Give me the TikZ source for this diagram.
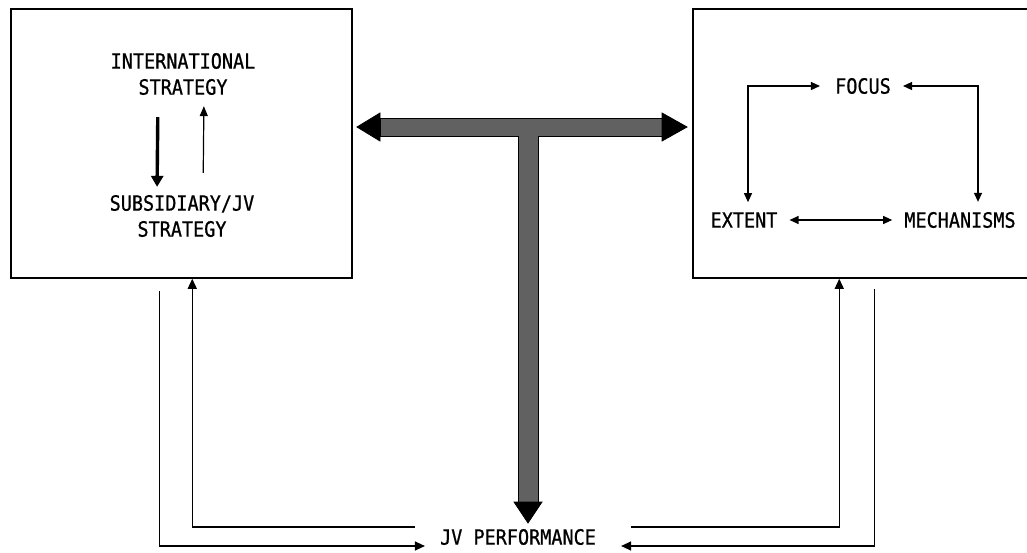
\documentclass[tikz,border=0pt]{standalone}
\usepackage{fontspec}
\setmainfont{DejaVu Sans Mono}[FakeStretch=0.88, FakeBold=0.8]
\usetikzlibrary{arrows.meta, positioning, calc}

\begin{document}
\begin{tikzpicture}[
  x=1pt, y=-1pt,
  font=\fontsize{21}{26}\selectfont,
  frame/.style={draw=black, line width=1.5pt, inner sep=0pt},
  txt/.style={inner sep=0pt, align=center},
  fb/.style={draw=black, line width=1.3pt, -{Triangle[length=10pt, width=9pt]}},
  thinarr/.style={draw=black, line width=1.2pt, {Triangle[length=9pt, width=8pt]}-{Triangle[length=9pt, width=8pt]}},
  bold/.style={draw=black, line width=3.4pt, -{Triangle[length=11pt, width=12pt]}},
  slim/.style={draw=black, line width=1.2pt, -{Triangle[length=10pt, width=8pt]}},
  tbar/.style={draw=black, line width=0.8pt, fill=black!62},
  thead/.style={draw=black, line width=0.8pt, fill=black}
]
\clip (0,0) rectangle (1027,552);

% ---- the two boxes
\node[frame, minimum width=341pt, minimum height=269pt] (lbox) at (181.5,143.5) {};
\node[frame, minimum width=350pt, minimum height=269pt] (rbox) at (868,143.5) {};

% ---- left box: strategy levels
\node[txt] (intl) at (183,74) {INTERNATIONAL\\STRATEGY};
\node[txt] (subs) at (182,216) {SUBSIDIARY/JV\\STRATEGY};
\draw[bold, shorten <=22pt, shorten >=8pt] ([xshift=-25pt]intl.south) -- ([xshift=-25pt]subs.north);
\draw[slim, shorten <=22pt, shorten >=11pt] ([xshift=21pt]subs.north) -- ([xshift=21pt]intl.south);

% ---- right box: the three dimensions
\node[txt] (focus)  at (863,86)  {FOCUS};
\node[txt] (extent) at (744,220) {EXTENT};
\node[txt] (mech)   at (960,220) {MECHANISMS};
\draw[thinarr, shorten <=15pt, shorten >=10pt] (focus.west) -| ([xshift=4pt]extent.north);
\draw[thinarr, shorten <=12pt, shorten >=10pt] (focus.east) -| ([xshift=18pt]mech.north);
\draw[thinarr, shorten <=12pt, shorten >=12pt] (extent.east) -- (mech.west);

% ---- performance and the feedback loops
\node[txt] (perf) at (518,537) {JV PERFORMANCE};
\coordinate (lout) at ($(lbox.south west)+(149,12)$);
\coordinate (rout) at ($(rbox.south west)+(182,10)$);
\draw[fb] (lout) |- ([shift={(-15,9)}]perf.west);
\draw[fb] ([shift={(-25,-10)}]perf.west) -| ([xshift=182pt]lbox.south west);
\draw[fb] ([shift={(35,-10)}]perf.east) -| ([xshift=147pt]rbox.south west);
\draw[fb] (rout) |- ([shift={(25,9)}]perf.east);

% ---- the broad T-shaped arrow
\coordinate (tc) at (528,127);
\begin{scope}[shift={(tc)}]
  \draw[tbar] (-148,-9) -- (134,-9) -- (134,9) -- (10,9) -- (10,375)
    -- (-10,375) -- (-10,9) -- (-148,9) -- cycle;
  \draw[thead] (-171,0) -- (-148,-14) -- (-148,14) -- cycle;
  \draw[thead] (159,0) -- (134,-14) -- (134,14) -- cycle;
  \draw[thead] (0,396) -- (-14,375) -- (14,375) -- cycle;
\end{scope}

\end{tikzpicture}
\end{document}
